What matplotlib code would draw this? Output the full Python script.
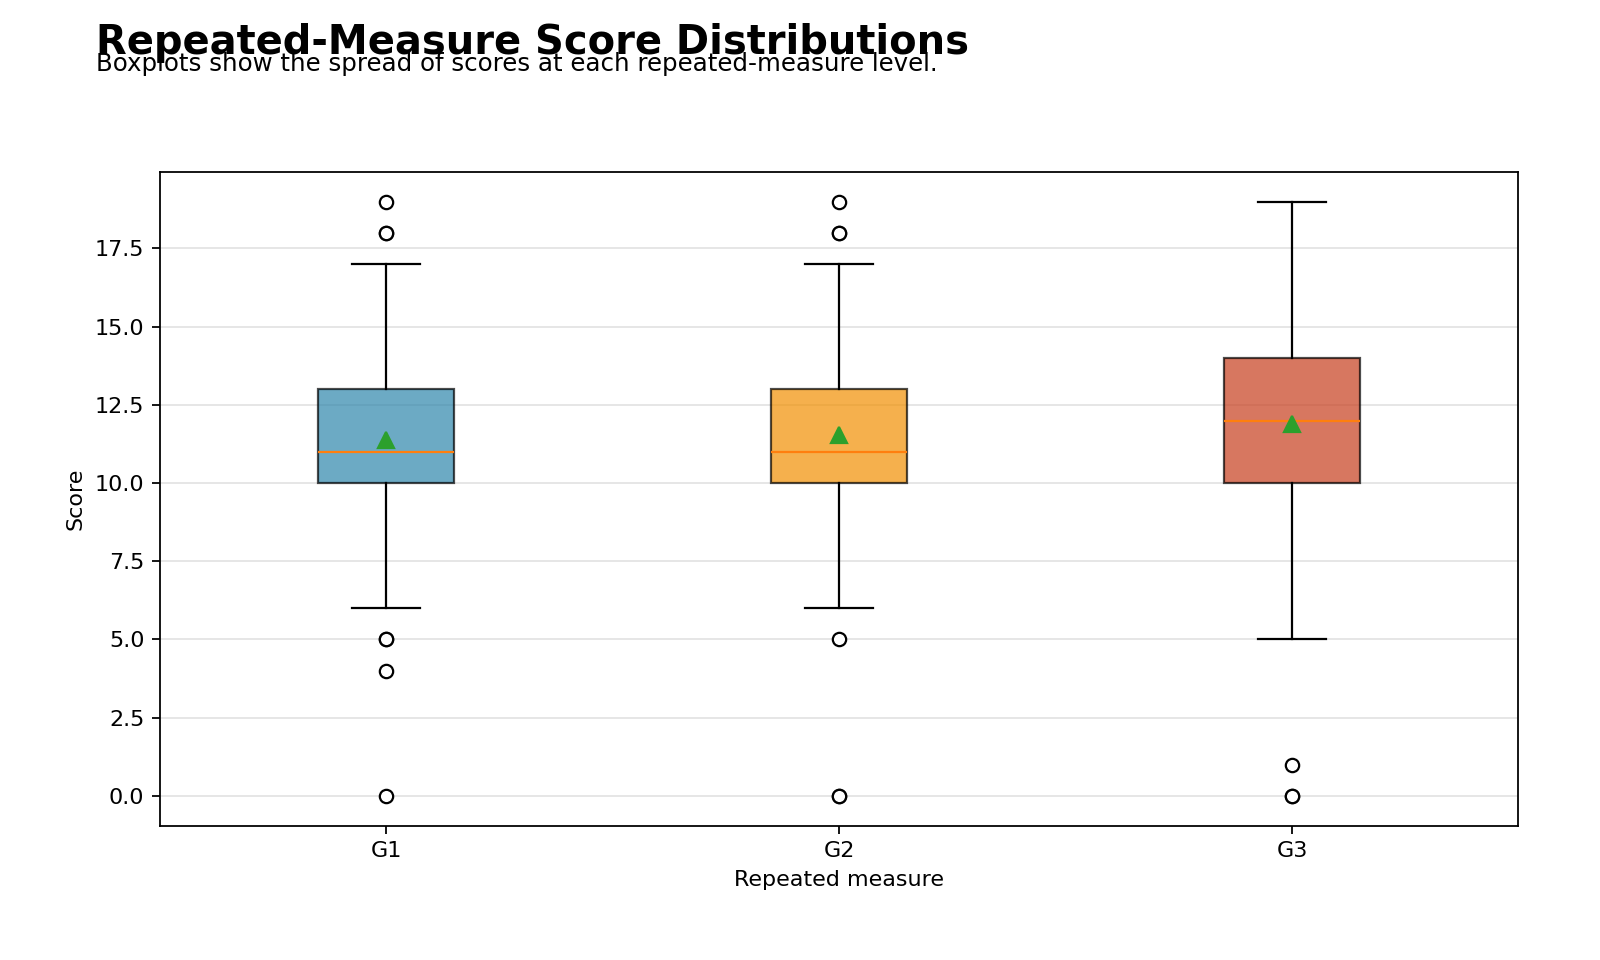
import matplotlib
matplotlib.use("Agg")
import matplotlib.pyplot as plt

# values
groups = ["G1", "G2", "G3"]
medians = [11, 11, 12]
q1s = [10, 10, 10]
q3s = [13, 13, 14]
whisker_lo = [6, 6, 5]
whisker_hi = [17, 17, 19]
means = [11.39, 11.55, 11.9]
fliers = [
    [19, 18, 18, 5, 5, 4, 0],
    [19, 18, 18, 5, 0, 0],
    [1, 0, 0],
]
colors = ["#2E86AB", "#F18F01", "#C73E1D"]

stats = []
for i, g in enumerate(groups):
    stats.append({
        "label": g,
        "med": medians[i],
        "q1": q1s[i],
        "q3": q3s[i],
        "whislo": whisker_lo[i],
        "whishi": whisker_hi[i],
        "mean": means[i],
        "fliers": fliers[i],
    })

fig, ax = plt.subplots(figsize=(10, 6), dpi=160)
fig.subplots_adjust(left=0.100, right=0.949, top=0.821, bottom=0.140)

bp = ax.bxp(stats, patch_artist=True, showmeans=True, widths=0.3,
            medianprops=dict(color="#ff7f0e"),
            meanprops=dict(marker="^", markerfacecolor="#2ca02c",
                           markeredgecolor="#2ca02c", markersize=7),
            flierprops=dict(marker="o", markerfacecolor="white",
                            markeredgecolor="black", markersize=6))
for patch, c in zip(bp["boxes"], colors):
    patch.set_facecolor(c)
    patch.set_alpha(0.7)
    patch.set_edgecolor("black")

ax.yaxis.grid(True, color="#dddddd", linewidth=0.8, alpha=0.8)
ax.set_axisbelow(True)
ax.tick_params(labelsize=10)
ax.set_xlabel("Repeated measure", fontsize=10)
ax.set_ylabel("Score", fontsize=10)

fig.text(0.06, 0.955, "Repeated-Measure Score Distributions", fontsize=18,
         fontweight="bold", va="center")
fig.text(0.06, 0.933, "Boxplots show the spread of scores at each repeated-measure level.",
         fontsize=11, va="center")

fig.savefig("out.png")
